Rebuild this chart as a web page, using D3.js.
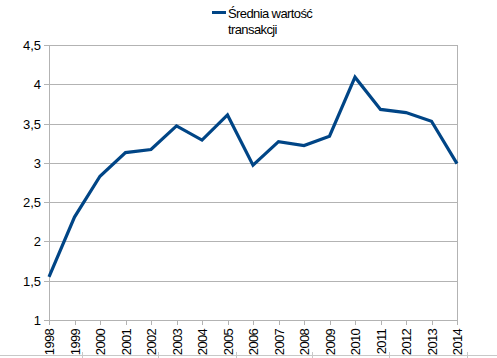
<!DOCTYPE html>
<html><head><meta charset="utf-8">
<script src="https://cdn.jsdelivr.net/npm/d3@7"></script>
<style>body{margin:0;background:#fff}svg{display:block}text{font-family:"Liberation Sans",Arial,sans-serif;fill:#000}</style>
</head><body><svg id="c" width="497" height="358"></svg>
<script>
const years = ["1998","1999","2000","2001","2002","2003","2004","2005","2006","2007","2008","2009","2010","2011","2012","2013","2014"];
const values = [1.55,2.31,2.83,3.13,3.17,3.47,3.29,3.61,2.97,3.27,3.22,3.34,4.09,3.68,3.64,3.53,2.99];
const yTicks = [1,1.5,2,2.5,3,3.5,4,4.5];
const seriesName = ["Średnia wartość","transakcji"];

const svg = d3.select("#c");
const L=49,R=457,T=45,B=320;
const x = d3.scalePoint().domain(years).range([L,R]);
const y = d3.scaleLinear().domain([1,4.5]).range([B,T]);
const grid="#b3b3b3";
const fmt = d => String(d).replace(".",",");

// spreadsheet line at bottom
svg.append("line").attr("x1",0).attr("x2",497).attr("y1",355.5).attr("y2",355.5).attr("stroke","#c8c8c8");
[82,158,236,312,389,467].forEach(px=>svg.append("line").attr("x1",px+0.5).attr("x2",px+0.5).attr("y1",352).attr("y2",358).attr("stroke","#c8c8c8"));

// horizontal gridlines
svg.append("g").selectAll("line").data(yTicks).join("line")
  .attr("x1",L-5).attr("x2",R).attr("y1",d=>Math.round(y(d))+0.5).attr("y2",d=>Math.round(y(d))+0.5)
  .attr("stroke",grid);
// left axis + right border
svg.append("line").attr("x1",L+0.5).attr("x2",L+0.5).attr("y1",T).attr("y2",B+5).attr("stroke",grid);
svg.append("line").attr("x1",R+0.5).attr("x2",R+0.5).attr("y1",T).attr("y2",B+5).attr("stroke",grid);
// x ticks
svg.append("g").selectAll("line").data(years).join("line")
  .attr("x1",d=>Math.round(x(d))+0.5).attr("x2",d=>Math.round(x(d))+0.5).attr("y1",B).attr("y2",B+5).attr("stroke",grid);

// y labels
svg.append("g").selectAll("text").data(yTicks).join("text")
  .attr("x",41).attr("y",d=>y(d)+5).attr("text-anchor","end").attr("font-size",13)
  .text(fmt);
// x labels
svg.append("g").selectAll("text").data(years).join("text")
  .attr("transform",d=>`translate(${x(d)+5},329) rotate(-90)`).attr("text-anchor","end")
  .attr("font-size",13).attr("letter-spacing","-0.7px").text(d=>d);

// line
svg.append("path").datum(values)
  .attr("d",d3.line().x((d,i)=>x(years[i])).y(d=>y(d)))
  .attr("fill","none").attr("stroke","#004586").attr("stroke-width",3.2).attr("stroke-linejoin","miter");

// legend
svg.append("line").attr("x1",212).attr("x2",226).attr("y1",12.5).attr("y2",12.5).attr("stroke","#004586").attr("stroke-width",3);
svg.append("g").selectAll("text").data(seriesName).join("text")
  .attr("x",228).attr("y",(d,i)=>18+i*16).attr("font-size",13).attr("letter-spacing","-0.6px").text(d=>d);
</script></body></html>
